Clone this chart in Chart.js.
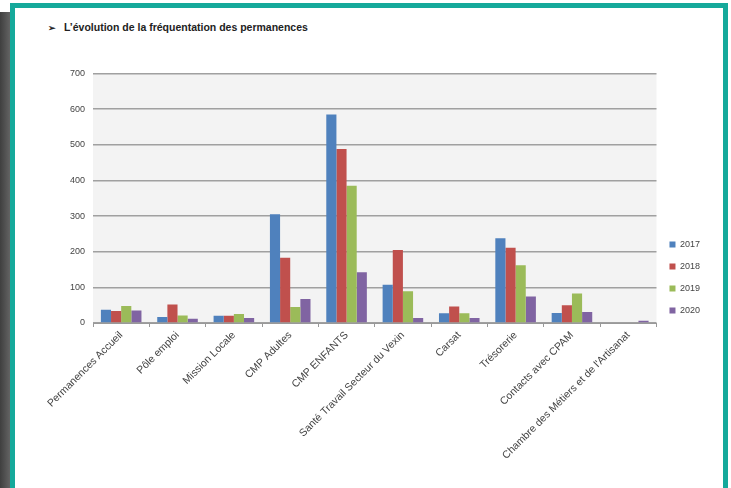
<!DOCTYPE html>
<html>
<head>
<meta charset="utf-8">
<script src="https://cdn.jsdelivr.net/npm/chart.js@4/dist/chart.umd.min.js"></script>
<style>
  html, body { margin: 0; padding: 0; background: #fff; }
  body { width: 731px; height: 488px; position: relative; overflow: hidden; font-family: "Liberation Sans", Arial, sans-serif; }
  .side { position: absolute; left: 0; top: 12px; width: 12px; height: 480px; background: linear-gradient(to right, #3f3f3f, #6a6a6a); }
  .frame { position: absolute; left: 10px; top: 3px; width: 708px; height: 500px; border: 5px solid #15a99b; background: #fff; }
  .title { position: absolute; left: 48px; top: 21px; font-size: 10.5px; font-weight: bold; color: #222; }
  .title span { margin-right: 8px; font-size: 9px; }
  #wrap { position: absolute; left: 40px; top: 60px; width: 670px; height: 425px; }
</style>
</head>
<body>
<div class="side"></div>
<div class="frame"></div>
<div class="title"><span>&#10146;</span>L’évolution de la fréquentation des permanences</div>
<div id="wrap"><canvas id="chart"></canvas></div>
<script>
const categories = [
  "Permanences Accueil", "Pôle emploi", "Mission Locale", "CMP Adultes", "CMP ENFANTS",
  "Santé Travail Secteur du Vexin", "Carsat", "Trésorerie", "Contacts avec CPAM",
  "Chambre des Métiers et de l'Artisanat"
];
const years = ["2017", "2018", "2019", "2020"];
const values2017 = [37, 17, 20, 305, 585, 107, 27, 238, 28, 0];
const values2018 = [34, 52, 20, 183, 488, 205, 46, 211, 50, 0];
const values2019 = [48, 21, 25, 45, 385, 89, 27, 162, 83, 0];
const values2020 = [35, 12, 14, 67, 142, 14, 14, 74, 31, 6];
const yTicks = [0, 100, 200, 300, 400, 500, 600, 700];

const colors = ["#4f81bd", "#c0504d", "#9bbb59", "#8064a2"];
const series = [values2017, values2018, values2019, values2020];

// light grey plot background like the Excel chart
const plotBg = {
  id: "plotBg",
  beforeDraw(chart) {
    const { ctx, chartArea: a } = chart;
    ctx.save();
    ctx.fillStyle = "#f3f3f3";
    ctx.fillRect(a.left, a.top, a.right - a.left, a.bottom - a.top);
    ctx.restore();
  }
};

new Chart(document.getElementById("chart"), {
  type: "bar",
  data: {
    labels: categories,
    datasets: years.map((y, i) => ({
      label: y,
      data: series[i],
      backgroundColor: colors[i],
      categoryPercentage: 0.72,
      barPercentage: 1
    }))
  },
  options: {
    responsive: true,
    maintainAspectRatio: false,
    animation: false,
    layout: { padding: { top: 10, right: 0, left: 0, bottom: 0 } },
    plugins: {
      tooltip: { enabled: false },
      legend: {
        position: "right",
        align: "center",
        labels: {
          boxWidth: 6, boxHeight: 6, padding: 13,
          color: "#444", font: { size: 9, family: "Liberation Sans" }
        }
      }
    },
    scales: {
      x: {
        afterFit(s) { s.height = 162; },
        grid: { display: true, drawOnChartArea: false, color: "#999", tickLength: 4, offset: true },
        border: { color: "#999" },
        ticks: {
          minRotation: 45, maxRotation: 45, autoSkip: false,
          color: "#444", font: { size: 10.5, family: "Liberation Sans" }, padding: 2
        }
      },
      y: {
        min: 0, max: 700,
        afterFit(s) { s.width = 53; },
        afterBuildTicks(s) { s.ticks = yTicks.map(v => ({ value: v })); },
        grid: { color: "#a0a0a0", lineWidth: 1.5, drawTicks: false },
        border: { display: false },
        ticks: { color: "#444", font: { size: 9, family: "Liberation Sans" }, padding: 8 }
      }
    }
  },
  plugins: [plotBg]
});
</script>
</body>
</html>
